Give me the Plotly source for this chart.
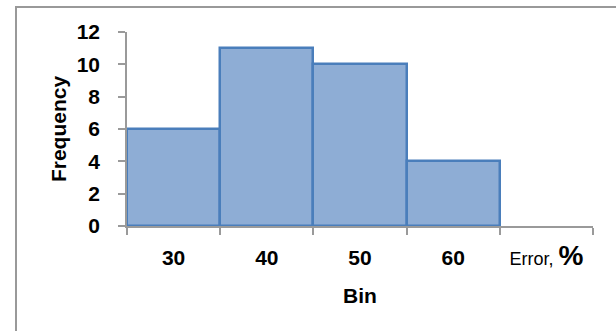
import plotly.graph_objects as go

# Histogram data: error bins and their counts
bins = ["30", "40", "50", "60"]
frequency = [6, 11, 10, 4]
axis_categories = ["30", "40", "50", "60", "Error, %"]
tick_labels = ["<b>30</b>", "<b>40</b>", "<b>50</b>", "<b>60</b>",
               "<span style='font-size:18px'>Error, </span>"
               "<b><span style='font-size:28px'>%</span></b>"]
y_ticks = [0, 2, 4, 6, 8, 10, 12]

fig = go.Figure()
fig.add_trace(go.Bar(
    x=bins,
    y=frequency,
    marker=dict(color="#8EADD5", line=dict(color="#4A7EBB", width=2.5)),
    showlegend=False,
))

fig.update_layout(
    width=616, height=331,
    margin=dict(l=127, r=23, t=32, b=105),
    paper_bgcolor="white",
    plot_bgcolor="white",
    bargap=0,
    font=dict(family="Liberation Sans, Arial, sans-serif", color="black", size=17),
    xaxis=dict(
        type="category",
        categoryorder="array",
        categoryarray=axis_categories,
        tickmode="array",
        tickvals=axis_categories,
        ticktext=tick_labels,
        range=[-0.5, 4.5],
        tickson="boundaries",
        ticks="outside",
        ticklen=7,
        tickcolor="#9A9A9A",
        tickwidth=1.5,
        ticklabelstandoff=12,
        showline=True,
        linecolor="#9A9A9A",
        linewidth=1.5,
        showgrid=False,
        zeroline=False,
        tickfont=dict(size=21),
        title=dict(text="<b>Bin</b>", font=dict(size=21), standoff=18),
    ),
    yaxis=dict(
        range=[0, 12],
        tickmode="array",
        tickvals=y_ticks,
        ticktext=[f"<b>{v}</b>" for v in y_ticks],
        ticks="outside",
        ticklen=7,
        tickcolor="#9A9A9A",
        tickwidth=1.5,
        ticklabelstandoff=14,
        showline=True,
        linecolor="#9A9A9A",
        linewidth=1.5,
        showgrid=False,
        zeroline=False,
        tickfont=dict(size=21),
        title=dict(text="<b>Frequency</b>", font=dict(size=21), standoff=4),
    ),
    shapes=[
        # outer chart frame (top and left edges visible)
        dict(type="rect", xref="paper", yref="paper",
             x0=(16 - 127) / 466, x1=2.0,
             y0=-2.0, y1=(226 - 7) / 194,
             line=dict(color="#999999", width=2),
             fillcolor="rgba(0,0,0,0)", layer="below"),
    ],
)

fig.write_html("out.html")
